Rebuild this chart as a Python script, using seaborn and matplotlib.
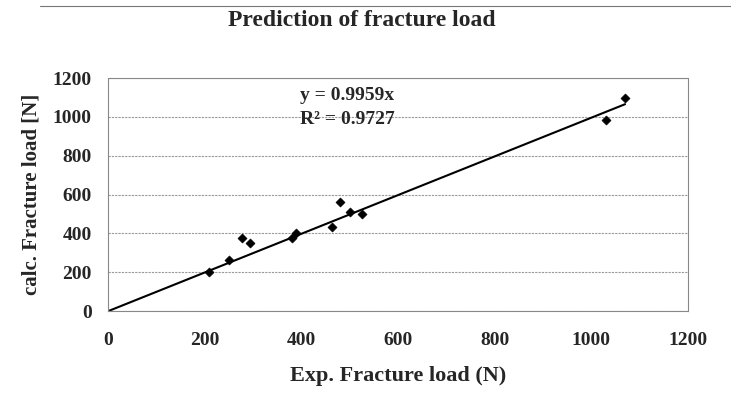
import numpy as np
import pandas as pd
import matplotlib
matplotlib.use("Agg")
import matplotlib.pyplot as plt
import seaborn as sns

# Data
exp_load = [208, 251, 276, 294, 380, 388, 463, 480, 501, 525, 1030, 1070]
calc_load = [200, 265, 375, 350, 375, 402, 432, 560, 508, 498, 985, 1100]
slope = 0.9959
r_squared = 0.9727
x_ticks = [0, 200, 400, 600, 800, 1000, 1200]
y_ticks = [0, 200, 400, 600, 800, 1000, 1200]

df = pd.DataFrame({"Exp": exp_load, "Calc": calc_load})

sns.set_style("white")
plt.rcParams['font.family'] = ['Liberation Serif', 'DejaVu Serif']
plt.rcParams['font.weight'] = 'bold'

fig = plt.figure(figsize=(7.31, 4.11), dpi=100)
ax = fig.add_axes([0.148, 0.243, 0.793, 0.567])

# Trendline through origin
line_x = np.array([0, max(exp_load)])
ax.plot(line_x, slope * line_x, color="black", lw=1.5, zorder=2)

sns.scatterplot(data=df, x="Exp", y="Calc", marker="D", color="black",
                s=22, edgecolor="black", ax=ax, zorder=3)

ax.set_xlim(0, 1200)
ax.set_ylim(0, 1200)
ax.set_xticks(x_ticks)
ax.set_yticks(y_ticks)
ax.tick_params(axis="both", labelsize=14, length=4, color="#888888")
ax.tick_params(axis="y", pad=8)
ax.tick_params(axis="x", direction="out", pad=11)

ax.yaxis.grid(True, color="#999999", ls=(0, (2, 1)), lw=0.8)
ax.xaxis.grid(False)
for side in ["left", "right", "top", "bottom"]:
    ax.spines[side].set_visible(True)
    ax.spines[side].set_color("#888888")
    ax.spines[side].set_linestyle((0, (2, 1)))
    ax.spines[side].set_linewidth(0.8)

ax.set_xlabel("Exp. Fracture load (N)", fontsize=16, fontweight="bold", labelpad=12)
ax.set_ylabel("calc. Fracture load [N]", fontsize=15, fontweight="bold", labelpad=8)

ax.text(397, 1112, "y = %.4fx" % slope, fontsize=14, fontweight="bold", va="center")
ax.text(397, 989, "R² = %.4f" % r_squared, fontsize=14, fontweight="bold", va="center")

fig.suptitle("Prediction of fracture load", x=0.495, y=0.975, fontsize=17, fontweight="bold")

# thin rule along the top of the page
fig.add_artist(plt.Line2D([0.055, 1.0], [0.985, 0.985], transform=fig.transFigure,
                          color="#777777", lw=0.8))

fig.savefig("out.png", dpi=100)
